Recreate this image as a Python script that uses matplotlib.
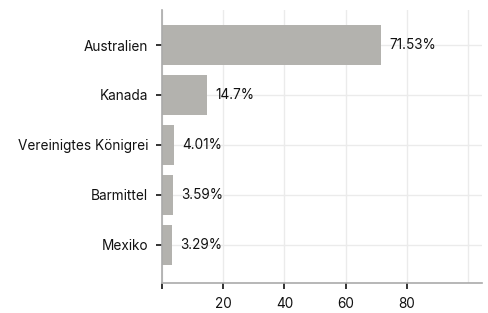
import matplotlib
matplotlib.use("Agg")
import matplotlib.pyplot as plt

plt.rcParams['font.family'] = ['Inter', 'DejaVu Sans']

categories = ['Australien', 'Kanada', 'Vereinigtes Königrei', 'Barmittel', 'Mexiko']
values = [71.53, 14.7, 4.01, 3.59, 3.29]
labels = ['71.53%', '14.7%', '4.01%', '3.59%', '3.29%']
xticks = [0, 20, 40, 60, 80]

fig = plt.figure(figsize=(4.89, 3.13), dpi=100)
ax = fig.add_axes([0.331, 0.096, 0.655, 0.872])

y = list(range(len(categories)))
ax.barh(y, values, height=0.8, color='#b3b2ae', zorder=2)
for yi, v, lab in zip(y, values, labels):
    ax.text(v + 2.6, yi, lab, va='center', ha='left', fontsize=9.8, color='#111111', zorder=3)

ax.set_yticks(y)
ax.set_yticklabels(categories, fontsize=9.8, color='#111111')
ax.set_ylim(len(categories) - 0.24, -0.7)
ax.set_xlim(0, 104.5)
ax.set_xticks(xticks)
ax.set_xticklabels([''] + [str(t) for t in xticks[1:]], fontsize=9.8, color='#111111')

ax.grid(True, color='#ebebeb', linewidth=1, zorder=0)
ax.axvline(100, color='#ebebeb', linewidth=1, zorder=0)
ax.set_axisbelow(True)

for s in ['top', 'right']:
    ax.spines[s].set_visible(False)
for s in ['left', 'bottom']:
    ax.spines[s].set_color('#aaaaaa')
    ax.spines[s].set_linewidth(1.2)
ax.tick_params(axis='both', length=4, width=1.2, color='#111111', pad=6)

fig.savefig('out.png', dpi=100)
